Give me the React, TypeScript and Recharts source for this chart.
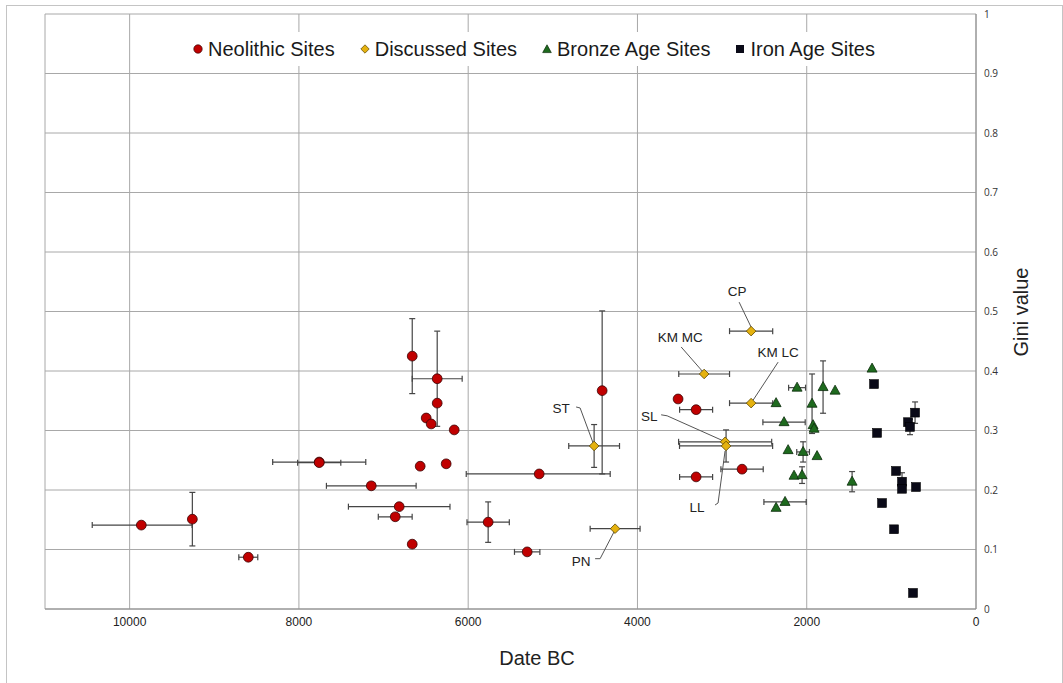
import React from 'react';
import { ScatterChart, Scatter, XAxis, YAxis, CartesianGrid, ErrorBar, Legend, Label } from 'recharts';

type Err = number | [number, number];
type Pt = { date: number; gini: number; xErr?: Err; yErr?: Err; name?: string };

const neolithic: Pt[] = [
  { date: 9862, gini: 0.141, xErr: [600, 580] },
  { date: 9259, gini: 0.151, yErr: 0.045 },
  { date: 8598, gini: 0.087, xErr: 112 },
  { date: 7760, gini: 0.247, xErr: 550 },
  { date: 7760, gini: 0.246, xErr: 255 },
  { date: 7145, gini: 0.207, xErr: 530 },
  { date: 6815, gini: 0.172, xErr: 600 },
  { date: 6862, gini: 0.155, xErr: 200 },
  { date: 6661, gini: 0.109 },
  { date: 6661, gini: 0.425, yErr: 0.063 },
  { date: 6366, gini: 0.387, xErr: 295, yErr: 0.08 },
  { date: 6366, gini: 0.346 },
  { date: 6496, gini: 0.321 },
  { date: 6437, gini: 0.311 },
  { date: 6165, gini: 0.301 },
  { date: 6567, gini: 0.240 },
  { date: 6260, gini: 0.244 },
  { date: 5161, gini: 0.227, xErr: [839, 862] },
  { date: 4417, gini: 0.367, yErr: [0.14, 0.134] },
  { date: 5764, gini: 0.146, xErr: 250, yErr: 0.034 },
  { date: 5303, gini: 0.096, xErr: 150 },
  { date: 3520, gini: 0.353 },
  { date: 3307, gini: 0.335, xErr: 195 },
  { date: 3307, gini: 0.222, xErr: 195 },
  { date: 2764, gini: 0.235, xErr: 250 },
];

const discussed: Pt[] = [
  { name: 'ST', date: 4512, gini: 0.274, xErr: 300, yErr: 0.036 },
  { name: 'PN', date: 4264, gini: 0.135, xErr: 295 },
  { name: 'CP', date: 2657, gini: 0.467, xErr: 255 },
  { name: 'KM MC', date: 3212, gini: 0.395, xErr: 300 },
  { name: 'KM LC', date: 2657, gini: 0.346, xErr: 255 },
  { name: 'SL', date: 2964, gini: 0.281, xErr: 550 },
  { name: 'LL', date: 2953, gini: 0.274, xErr: 550, yErr: 0.027 },
];

const bronze: Pt[] = [
  { date: 1228, gini: 0.404 },
  { date: 2114, gini: 0.372, xErr: 100 },
  { date: 1807, gini: 0.373, yErr: 0.044 },
  { date: 1665, gini: 0.367 },
  { date: 2362, gini: 0.346 },
  { date: 1937, gini: 0.345, yErr: 0.05 },
  { date: 2268, gini: 0.314, xErr: 250 },
  { date: 1925, gini: 0.309 },
  { date: 1913, gini: 0.303 },
  { date: 2220, gini: 0.267 },
  { date: 2043, gini: 0.264, xErr: 75, yErr: 0.017 },
  { date: 1878, gini: 0.257 },
  { date: 2150, gini: 0.224 },
  { date: 2055, gini: 0.225, yErr: 0.014 },
  { date: 1464, gini: 0.214, yErr: 0.017 },
  { date: 2256, gini: 0.180, xErr: 250 },
  { date: 2362, gini: 0.170 },
];

const iron: Pt[] = [
  { date: 1205, gini: 0.378 },
  { date: 1169, gini: 0.296 },
  { date: 720, gini: 0.330, yErr: 0.018 },
  { date: 803, gini: 0.314 },
  { date: 780, gini: 0.306, yErr: 0.013 },
  { date: 945, gini: 0.232 },
  { date: 874, gini: 0.214, yErr: 0.015 },
  { date: 874, gini: 0.202 },
  { date: 709, gini: 0.205 },
  { date: 1110, gini: 0.178 },
  { date: 968, gini: 0.134 },
  { date: 744, gini: 0.027 },
];

const xTicks = [0, 2000, 4000, 6000, 8000, 10000];
const yTicks = [0, 0.1, 0.2, 0.3, 0.4, 0.5, 0.6, 0.7, 0.8, 0.9, 1];
const seriesNames = ['Neolithic Sites', 'Discussed Sites', 'Bronze Age Sites', 'Iron Age Sites'];
const xTitle = 'Date BC';
const yTitle = 'Gini value';

// ---- styles ----
const FONT = '"Liberation Sans", Arial, Helvetica, sans-serif';
const COLORS = {
  neo: '#C00000', neoStroke: '#3a0505',
  dis: '#E5B20F', disStroke: '#5a4500',
  bro: '#1E6A1E', broStroke: '#0c2c0c',
  iron: '#0a0a18', ironStroke: '#000000',
};

const LABEL_LAYOUT: Record<string, { tx: number; ty: number; leader: [number, number][] }> = {
  CP: { tx: -14, ty: -40, leader: [[-12, -29], [0, -4]] },
  'KM MC': { tx: -24, ty: -36, leader: [[-23, -27], [-2, -3]] },
  'KM LC': { tx: 27, ty: -51, leader: [[27, -41], [2, -3]] },
  SL: { tx: -76, ty: -25, leader: [[-64, -27], [-58, -26], [-2, -1]] },
  ST: { tx: -33, ty: -37, leader: [[-18, -39], [-14, -38], [-1, -3]] },
  PN: { tx: -34, ty: 33, leader: [[-20, 30], [-15, 30], [-1, 3]] },
  LL: { tx: -29, ty: 62, leader: [[-11, 59], [-8, 57], [-1, 5]] },
};

const circleShape = (p: any) => (
  <circle cx={p.cx} cy={p.cy} r={4.9} fill={COLORS.neo} stroke={COLORS.neoStroke} strokeWidth={0.8} />
);

const diamondPath = (cx: number, cy: number, s: number) =>
  `${cx},${cy - s} ${cx + s},${cy} ${cx},${cy + s} ${cx - s},${cy}`;

const discussedShape = (p: any) => {
  const { cx, cy, payload } = p;
  const lay = LABEL_LAYOUT[payload?.name] ;
  return (
    <g>
      {lay && (
        <>
          <polyline
            points={lay.leader.map(([dx, dy]) => `${cx + dx},${cy + dy}`).join(' ')}
            fill="none"
            stroke="#555"
            strokeWidth={1}
          />
          <text
            x={cx + lay.tx}
            y={cy + lay.ty}
            textAnchor="middle"
            dominantBaseline="central"
            fontFamily={FONT}
            fontSize={13.5}
            fill="#222"
          >
            {payload.name}
          </text>
        </>
      )}
      <polygon points={diamondPath(cx, cy, 4.8)} fill={COLORS.dis} stroke={COLORS.disStroke} strokeWidth={0.8} />
    </g>
  );
};

const triangleShape = (p: any) => {
  const { cx, cy } = p;
  return (
    <polygon
      points={`${cx},${cy - 5.5} ${cx + 5},${cy + 3.5} ${cx - 5},${cy + 3.5}`}
      fill={COLORS.bro}
      stroke={COLORS.broStroke}
      strokeWidth={0.8}
    />
  );
};

const squareShape = (p: any) => (
  <rect x={p.cx - 4.4} y={p.cy - 4.4} width={8.8} height={8.8} fill={COLORS.iron} stroke={COLORS.ironStroke} strokeWidth={0.6} />
);

const legendMarker = (i: number) => {
  if (i === 0) return <circle cx={5} cy={5} r={4.2} fill={COLORS.neo} stroke={COLORS.neoStroke} strokeWidth={0.7} />;
  if (i === 1) return <polygon points={diamondPath(5, 5, 4.2)} fill={COLORS.dis} stroke={COLORS.disStroke} strokeWidth={0.7} />;
  if (i === 2) return <polygon points="5,0.8 9.3,8.6 0.7,8.6" fill={COLORS.bro} stroke={COLORS.broStroke} strokeWidth={0.7} />;
  return <rect x={1} y={1} width={8} height={8} fill={COLORS.iron} />;
};

const legendContent = () => (
  <div
    style={{
      display: 'flex',
      justifyContent: 'center',
      alignItems: 'center',
      gap: 25,
      height: 34,
      background: '#fff',
      fontFamily: FONT,
      fontSize: 20,
      color: '#1a1a1a',
      whiteSpace: 'nowrap',
    }}
  >
    {seriesNames.map((n, i) => (
      <div key={n} style={{ display: 'flex', alignItems: 'center', gap: 5 }}>
        <svg width={10} height={10} style={{ display: 'block' }}>{legendMarker(i)}</svg>
        <span>{n}</span>
      </div>
    ))}
  </div>
);

const errStyle = { stroke: '#454545', strokeWidth: 1.2 };

const renderErrorBars = () => [
  <ErrorBar key="ex" dataKey="xErr" direction="x" width={3} {...errStyle} isAnimationActive={false} />,
  <ErrorBar key="ey" dataKey="yErr" direction="y" width={3} {...errStyle} isAnimationActive={false} />,
];

export default function App() {
  return (
    <div style={{ position: 'absolute', left: 0, top: 0, width: 1063, height: 683, background: '#fff', overflow: 'hidden' }}>
      <div
        style={{
          position: 'absolute',
          left: 6,
          top: 5,
          width: 1057,
          height: 700,
          border: '1px solid #c4c4c4',
          boxSizing: 'border-box',
        }}
      />
      <div style={{ position: 'absolute', left: 0, top: 0 }}>
        <ScatterChart width={1063} height={683} margin={{ top: 14, right: 37, bottom: 14, left: 45 }}>
          <CartesianGrid stroke="#a8a8a8" strokeWidth={1} />
          <XAxis
            dataKey="date"
            type="number"
            domain={[0, 11000]}
            reversed
            ticks={xTicks}
            interval={0}
            tickLine={false}
            axisLine={{ stroke: '#8c8c8c' }}
            tick={{ fill: '#222', fontSize: 12, fontFamily: FONT }}
            height={60}
            allowDataOverflow
          >
            <Label
              content={() => (
                <text x={537} y={665} textAnchor="middle" fontFamily={FONT} fontSize={20} fill="#222">
                  {xTitle}
                </text>
              )}
            />
          </XAxis>
          <YAxis
            dataKey="gini"
            type="number"
            orientation="right"
            domain={[0, 1]}
            ticks={yTicks}
            interval={0}
            tickLine={false}
            axisLine={{ stroke: '#8c8c8c' }}
            tick={{ fill: '#333', fontSize: 10, fontFamily: '"Open Sans", "DejaVu Sans", sans-serif' }}
            width={50}
            allowDataOverflow
          >
            <Label
              content={() => (
                <text
                  x={1021}
                  y={312}
                  transform="rotate(-90 1021 312)"
                  textAnchor="middle"
                  dominantBaseline="central"
                  fontFamily={FONT}
                  fontSize={20}
                  fill="#222"
                >
                  {yTitle}
                </text>
              )}
            />
          </YAxis>
          <Legend
            layout="vertical"
            align="center"
            verticalAlign="middle"
            content={legendContent}
            wrapperStyle={{ position: 'absolute', top: 32, left: 180, width: 708, height: 34, right: 'auto', bottom: 'auto' }}
          />
          <Scatter name={seriesNames[0]} data={neolithic} shape={circleShape} isAnimationActive={false}>
            {renderErrorBars()}
          </Scatter>
          <Scatter name={seriesNames[1]} data={discussed} shape={discussedShape} isAnimationActive={false}>
            {renderErrorBars()}
          </Scatter>
          <Scatter name={seriesNames[2]} data={bronze} shape={triangleShape} isAnimationActive={false}>
            {renderErrorBars()}
          </Scatter>
          <Scatter name={seriesNames[3]} data={iron} shape={squareShape} isAnimationActive={false}>
            {renderErrorBars()}
          </Scatter>
        </ScatterChart>
      </div>
    </div>
  );
}
